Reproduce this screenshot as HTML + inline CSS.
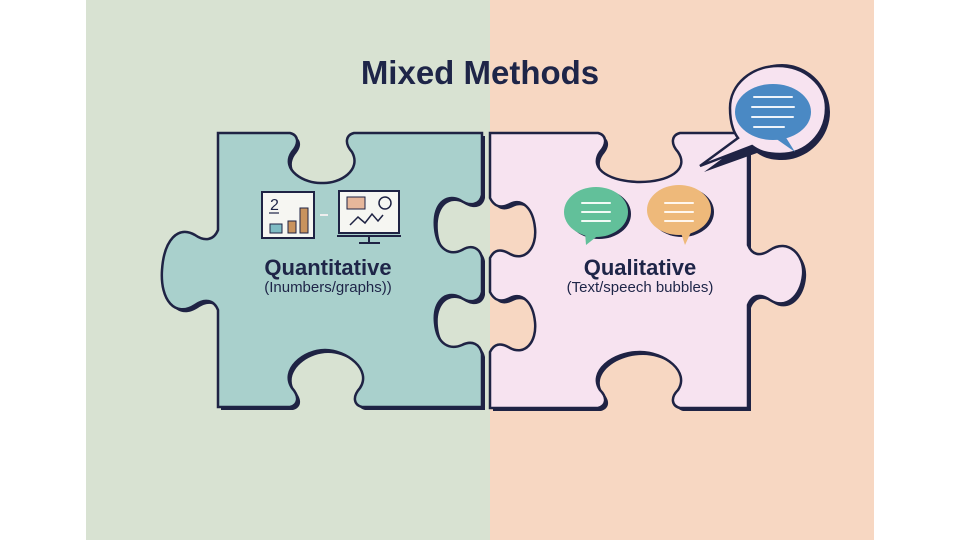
<!DOCTYPE html>
<html><head><meta charset="utf-8"><style>
html,body{margin:0;padding:0;background:#fff;}
svg{display:block;}
</style></head><body>
<svg width="960" height="540" viewBox="0 0 960 540" xmlns="http://www.w3.org/2000/svg" font-family="Liberation Sans, sans-serif">
<rect x="0" y="0" width="960" height="540" fill="#fff"/>
<rect x="86" y="0" width="404" height="540" fill="#d8e2d2"/>
<rect x="490" y="0" width="384" height="540" fill="#f7d7c2"/>
<text x="480" y="84" text-anchor="middle" font-size="33" font-weight="bold" fill="#1e2548">Mixed Methods</text>

<g id="left">
<path transform="translate(3,3)" fill="#1f2344" d="M218,133 L290,133 C298,135 300,143 292,152 C280,170 305,184 322,183 C340,184 362,170 352,152 C344,143 346,135 354,133 L482,133 L482,195 C480,205 470,207 460,200 C445,193 433,205 435,228 C437,250 450,256 462,250 C472,244 480,248 482,258 L482,292 C480,302 470,304 460,297 C445,290 433,302 435,323 C437,345 450,350 462,345 C472,340 480,344 482,354 L482,407 L362,407 C354,405 352,397 360,388 C372,370 347,350 325,350 C303,350 280,370 292,388 C300,397 298,405 290,407 L218,407 L218,310 C214,300 205,298 195,305 C175,318 160,300 162,270 C164,240 178,225 195,235 C205,242 214,240 218,230 Z"/>
<path fill="#a9d0cc" stroke="#1f2344" stroke-width="2.5" d="M218,133 L290,133 C298,135 300,143 292,152 C280,170 305,184 322,183 C340,184 362,170 352,152 C344,143 346,135 354,133 L482,133 L482,195 C480,205 470,207 460,200 C445,193 433,205 435,228 C437,250 450,256 462,250 C472,244 480,248 482,258 L482,292 C480,302 470,304 460,297 C445,290 433,302 435,323 C437,345 450,350 462,345 C472,340 480,344 482,354 L482,407 L362,407 C354,405 352,397 360,388 C372,370 347,350 325,350 C303,350 280,370 292,388 C300,397 298,405 290,407 L218,407 L218,310 C214,300 205,298 195,305 C175,318 160,300 162,270 C164,240 178,225 195,235 C205,242 214,240 218,230 Z"/>
</g>

<g id="right">
<path transform="translate(3,3)" fill="#1f2344" d="M490,133 L598,133 C606,135 608,143 600,152 C588,170 612,182 640,182 C668,182 690,170 678,152 C670,143 672,135 680,133 L748,133 L748,245 C752,255 760,257 770,250 C788,238 805,255 803,275 C801,297 785,310 770,300 C760,293 752,295 748,305 L748,408 L680,408 C672,406 670,398 678,390 C690,372 665,352 640,352 C612,352 588,372 600,390 C608,398 606,406 598,408 L490,408 L490,352 C494,344 500,342 510,348 C525,356 537,342 535,322 C533,302 522,292 510,298 C500,303 494,300 490,292 L490,258 C494,250 500,248 510,254 C525,262 537,248 535,228 C533,208 522,198 510,204 C500,209 494,206 490,198 Z"/>
<path fill="#f7e3f0" stroke="#1f2344" stroke-width="2.5" d="M490,133 L598,133 C606,135 608,143 600,152 C588,170 612,182 640,182 C668,182 690,170 678,152 C670,143 672,135 680,133 L748,133 L748,245 C752,255 760,257 770,250 C788,238 805,255 803,275 C801,297 785,310 770,300 C760,293 752,295 748,305 L748,408 L680,408 C672,406 670,398 678,390 C690,372 665,352 640,352 C612,352 588,372 600,390 C608,398 606,406 598,408 L490,408 L490,352 C494,344 500,342 510,348 C525,356 537,342 535,322 C533,302 522,292 510,298 C500,303 494,300 490,292 L490,258 C494,250 500,248 510,254 C525,262 537,248 535,228 C533,208 522,198 510,204 C500,209 494,206 490,198 Z"/>
</g>

<!-- big speech bubble -->
<path fill="#1f2344" d="M780,62 C806,62 828,84 828,110 C828,136 806,158 780,158 C770,158 762,156 755,151 L702,170 L740,142 C732,133 730,122 730,110 C730,84 752,62 780,62 Z" transform="translate(2,2)"/>
<path fill="#f7e3f0" stroke="#1f2344" stroke-width="2.5" d="M778,66 C804,66 826,84 826,108 C826,134 806,154 780,154 C768,154 760,152 752,146 L700,166 L738,138 C732,130 730,120 730,108 C730,84 752,66 778,66 Z"/>
<ellipse cx="773" cy="112" rx="38" ry="28" fill="#4a89c4"/>
<path d="M785,136 L795,152 L775,138 Z" fill="#4a89c4"/>
<g stroke="#eef4fb" stroke-width="2" stroke-linecap="round">
<line x1="754" y1="97" x2="792" y2="97"/><line x1="752" y1="107" x2="794" y2="107"/><line x1="752" y1="117" x2="793" y2="117"/><line x1="754" y1="127" x2="784" y2="127"/>
</g>

<!-- green & orange bubbles -->
<ellipse cx="599" cy="214" rx="32" ry="25" fill="#1f2344"/>
<ellipse cx="596" cy="212" rx="32" ry="25" fill="#62c09a"/>
<path d="M585,232 L586,245 L600,234 Z" fill="#62c09a"/>
<g stroke="#f2fbf6" stroke-width="2" stroke-linecap="round"><line x1="582" y1="203" x2="610" y2="203"/><line x1="582" y1="212" x2="610" y2="212"/><line x1="582" y1="221" x2="610" y2="221"/></g>
<ellipse cx="682" cy="212" rx="32" ry="25" fill="#1f2344"/>
<ellipse cx="679" cy="210" rx="32" ry="25" fill="#eeb97a"/>
<path d="M680,230 L685,245 L692,230 Z" fill="#eeb97a"/>
<g stroke="#fff7ee" stroke-width="2" stroke-linecap="round"><line x1="665" y1="203" x2="693" y2="203"/><line x1="665" y1="212" x2="693" y2="212"/><line x1="665" y1="221" x2="693" y2="221"/></g>

<text x="640" y="275" text-anchor="middle" font-size="22" font-weight="bold" fill="#1e2548">Qualitative</text>
<text x="640" y="292" text-anchor="middle" font-size="15" fill="#1e2548">(Text/speech bubbles)</text>

<!-- left icons -->
<rect x="262" y="192" width="52" height="46" fill="#f6f6f2" stroke="#1f2344" stroke-width="2"/>
<text x="270" y="210" font-size="16" fill="#1e2548">2</text>
<line x1="269" y1="213" x2="279" y2="213" stroke="#1e2548" stroke-width="1.2"/>
<rect x="270" y="224" width="12" height="9" fill="#7fbcc4" stroke="#1f2344"/>
<rect x="288" y="221" width="8" height="12" fill="#c9935e" stroke="#1f2344"/>
<rect x="300" y="208" width="8" height="25" fill="#c9935e" stroke="#1f2344"/>
<line x1="320" y1="215" x2="328" y2="215" stroke="#eee" stroke-width="2"/>
<rect x="339" y="191" width="60" height="42" fill="#f6f6f2" stroke="#1f2344" stroke-width="2"/>
<rect x="347" y="197" width="18" height="12" fill="#e7b79b" stroke="#1f2344"/>
<circle cx="385" cy="203" r="6" fill="none" stroke="#1f2344" stroke-width="1.5"/>
<polyline points="350,225 358,217 365,223 372,214 378,221 383,215" fill="none" stroke="#1f2344" stroke-width="1.5"/>
<line x1="337" y1="236" x2="401" y2="236" stroke="#1f2344" stroke-width="2"/>
<line x1="369" y1="236" x2="369" y2="242" stroke="#1f2344" stroke-width="2"/>
<line x1="359" y1="243" x2="380" y2="243" stroke="#1f2344" stroke-width="2"/>

<text x="328" y="275" text-anchor="middle" font-size="22" font-weight="bold" fill="#1e2548">Quantitative</text>
<text x="328" y="292" text-anchor="middle" font-size="15" fill="#1e2548">(Inumbers/graphs))</text>
</svg>
</body></html>
